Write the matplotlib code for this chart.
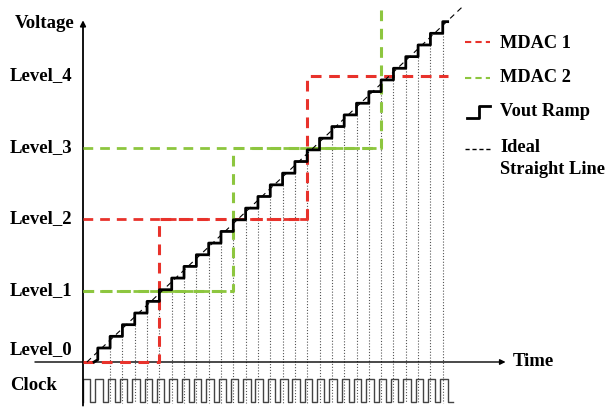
import matplotlib.pyplot as plt
import numpy as np

# time axis in clock periods, voltage in levels
level_names = ['Level_0', 'Level_1', 'Level_2', 'Level_3', 'Level_4']
level_values = [0, 1, 2, 3, 4]

# Vout ramp: one step per clock
n_steps = 29
first_rise_t = 1.2
step_height = 0.163
first_top = 0.196
ideal_start_t = 0.32
ideal_end_t = 30.8

# comparator outputs (time, level)
mdac1_t = [0.0, 6.2, 6.2, 18.2, 18.2, 29.6]
mdac1_v = [0, 0, 2, 2, 4, 4]
mdac2_t = [0.0, 12.2, 12.2, 24.2, 24.2]
mdac2_v = [1, 1, 3, 3, 4.95]

# pixel layout of the reference (607x407)
W, H = 607, 407
x0_px, px_per_t = 83, 12.32
y0_px, px_per_lv = 362, 71.5

red = '#e8322b'
green = '#8dc63f'
FONT = 'Liberation Serif'

fig = plt.figure(figsize=(W / 100, H / 100), dpi=100)
ax = fig.add_axes([0, 0, 1, 1])
ax.set_xlim(-x0_px / px_per_t, (W - x0_px) / px_per_t)
ax.set_ylim((y0_px - H) / px_per_lv, y0_px / px_per_lv)
ax.axis('off')

# axes with arrows
ax.annotate('', xy=(0, 4.78), xytext=(0, -0.61),
            arrowprops=dict(arrowstyle='-|>', color='black', lw=1.3,
                            mutation_scale=8, shrinkA=0, shrinkB=0))
ax.annotate('', xy=(34.3, 0), xytext=(-3.9, 0),
            arrowprops=dict(arrowstyle='-|>', color='black', lw=1.0,
                            mutation_scale=8, shrinkA=0, shrinkB=0))

# staircase (Vout ramp)
k = np.arange(n_steps)
rise_t = first_rise_t + k
tops = first_top + k * step_height
st_x = [rise_t[0] - 0.3]
st_y = [0.0]
for tt, top in zip(rise_t, tops):
    st_x += [tt, tt]
    st_y += [top - step_height, top]
st_x.append(rise_t[-1] + 0.4)
st_y.append(st_y[-1])

# dotted clock-edge lines
for tt, top in zip(rise_t[1:], tops[1:]):
    ax.plot([tt, tt], [top - step_height, -0.575], color='#555555',
            lw=0.8, ls=(0, (1, 1.6)), zorder=1)

# clock square wave
clk_hi, clk_lo = -0.24, -0.56
cx, cy = [0.0], [clk_lo]
for i in range(30):
    cx += [i, i, i + 0.6, i + 0.6]
    cy += [clk_lo, clk_hi, clk_hi, clk_lo]
cx.append(30)
cy.append(clk_lo)
ax.plot(cx, cy, color='#444444', lw=1.0, zorder=2)

# level reference lines and MDAC outputs
ax.plot([0, 12.2], [1, 1], color=green, lw=2, dashes=(3.5, 2.5), zorder=3)
ax.plot([0, 18.2], [2, 2], color=red, lw=2, dashes=(3.5, 2.5), zorder=3)
ax.plot([0, 24.2], [3, 3], color=green, lw=2, dashes=(3.5, 2.5), zorder=3)
ax.plot(mdac1_t, mdac1_v, color=red, lw=2.2, dashes=(3.5, 2.5), zorder=4)
ax.plot(mdac2_t, mdac2_v, color=green, lw=2.2, dashes=(3.5, 2.5), zorder=4)

ax.plot(st_x, st_y, color='black', lw=2.0, zorder=5)

# ideal straight line
ideal_t = np.array([ideal_start_t, ideal_end_t])
ax.plot(ideal_t, (ideal_t - ideal_start_t) * step_height, color='black',
        lw=0.8, dashes=(5, 4), zorder=6)

# labels
fs = 13.5
for name, val in zip(level_names, level_values):
    yy = val + (0.17 if val == 0 else 0)
    ax.text(-0.85, yy, name, ha='right', va='center', fontsize=fs,
            fontweight='bold', family=FONT)
ax.text(75 / W, 1 - 23 / H, 'Voltage', transform=ax.transAxes, ha='right',
        va='center', fontsize=fs, fontweight='bold', family=FONT)
ax.text(513 / W, 1 - 362 / H, 'Time', transform=ax.transAxes, ha='left',
        va='center', fontsize=fs, fontweight='bold', family=FONT)
ax.text(10 / W, 1 - 386 / H, 'Clock', transform=ax.transAxes, ha='left',
        va='center', fontsize=fs, fontweight='bold', family=FONT)

# legend drawn by hand
tr = ax.transAxes
def fx(px):
    return px / W
def fy(py):
    return 1 - py / H

ax.plot([fx(465), fx(490)], [fy(42), fy(42)], transform=tr, color=red,
        lw=1.5, dashes=(3, 2))
ax.plot([fx(465), fx(490)], [fy(78), fy(78)], transform=tr, color=green,
        lw=1.5, dashes=(3, 2))
ax.plot([fx(467), fx(479), fx(479), fx(490)], [fy(118), fy(118), fy(106), fy(106)],
        transform=tr, color='black', lw=2)
ax.plot([fx(465), fx(490)], [fy(149), fy(149)], transform=tr, color='black',
        lw=1.0, dashes=(3, 2))
legend_text = [('MDAC 1', 43), ('MDAC 2', 78), ('Vout Ramp', 112),
               ('Ideal', 148), ('Straight Line', 170)]
for txt, py in legend_text:
    ax.text(fx(500), fy(py), txt, transform=tr, ha='left', va='center',
            fontsize=13.2, fontweight='bold', family=FONT)

plt.savefig('out.png', dpi=100)
plt.close()
